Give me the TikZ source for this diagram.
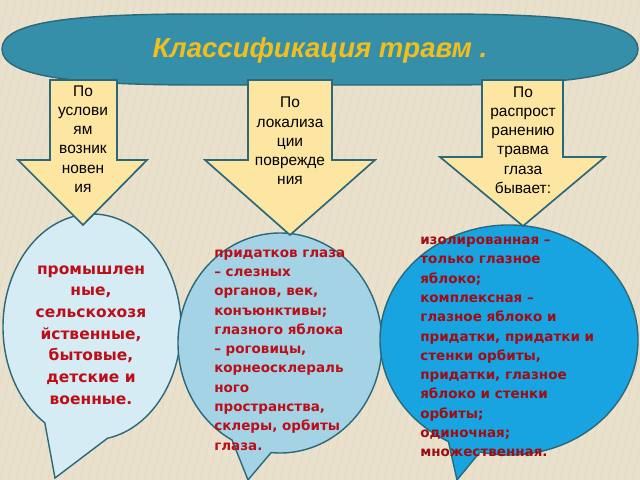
\documentclass[tikz,border=0pt]{standalone}
\usepackage{fontspec}
\setmainfont{Liberation Sans}
\newfontfamily\notefont{DejaVu Sans}
\usetikzlibrary{calc}

\definecolor{bgbeige}{RGB}{234,225,204}
\definecolor{edgeteal}{RGB}{42,104,122}
\definecolor{titleteal}{RGB}{54,143,168}
\definecolor{titlegold}{RGB}{240,190,30}
\definecolor{arrowyellow}{RGB}{253,229,162}
\definecolor{paleblue}{RGB}{214,236,244}
\definecolor{midblue}{RGB}{163,211,229}
\definecolor{brightblue}{RGB}{24,164,224}
\definecolor{notered}{RGB}{188,14,24}

\begin{document}
\begin{tikzpicture}
  [x=0.025cm, y=-0.025cm,
   pointer/.style={fill=arrowyellow, draw=edgeteal, line width=1.2pt},
   bubble/.style={draw=edgeteal, line width=1pt},
   label/.style={font=\fontsize{11}{13.7}\selectfont, align=center, inner sep=0pt},
   note/.style={text=notered, font=\notefont\bfseries\fontsize{9.6}{13.7}\selectfont, align=left, inner sep=0pt}]

  \newcommand{\neck}{160}

  \fill[bgbeige] (0,0) rectangle (640,480);
  \useasboundingbox (0,0) rectangle (640,480);

  % faint stripes of the background
  \begin{scope}
    \clip (0,0) rectangle (640,480);
    \foreach \s in {-200,-192,...,640}
      \draw[bgbeige!88!black, line width=0.5pt, opacity=0.35] (\s,480) -- (\s+120,0);
  \end{scope}

  % bubbles
  \coordinate (c1) at (92,327);
  \coordinate (c2) at (280,343);
  \coordinate (c3) at (509,340);

  \draw[bubble, fill=paleblue] (c1) ++(122:89 and 113)
    arc[start angle=122, end angle=440, x radius=89, y radius=113] -- (55,478) -- cycle;
  \draw[bubble, fill=midblue] (c2) ++(118:102 and 110)
    arc[start angle=118, end angle=455, x radius=102, y radius=110] -- (248,480) -- cycle;
  \draw[bubble, fill=brightblue] (c3) ++(118:129 and 115)
    arc[start angle=118, end angle=463, x radius=129, y radius=115] -- (457,480) -- cycle;

  % title
  \draw[fill=titleteal, draw=edgeteal, line width=1pt]
    (2,49) .. controls (2,22) and (70,14) .. (200,14) -- (440,14)
    .. controls (570,14) and (638,22) .. (638,49)
    .. controls (638,76) and (570,85) .. (440,85) -- (200,85)
    .. controls (70,85) and (2,76) .. (2,49) -- cycle;
  \node (title) at (320,50) [text=titlegold, font=\fontsize{19.6}{22}\selectfont\bfseries\itshape] {Классификация травм .};

  % arrows
  \draw[pointer] (50,80) -- (117,80) -- (117,\neck) -- (147,\neck) -- (83,225) -- (18,\neck) -- (50,\neck) -- cycle;
  \draw[pointer] (248,80) -- (332,80) -- (332,\neck) -- (375,\neck) -- (290,235) -- (205,\neck) -- (248,\neck) -- cycle;
  \draw[pointer] (482,80) -- (563,80) -- (563,157) -- (605,157) -- (523,226) -- (440,157) -- (482,157) -- cycle;

  \node (cause) at (83,139) [label] {По\\услови\\ям\\возник\\новен\\ия};
  \node (place) at (290,141) [label] {По\\локализа\\ции\\поврежде\\ния};
  \node (spread) at (523,140) [label] {По\\распрост\\ранению\\травма\\глаза\\бывает:};

  % texts
  \node (kinds) at (91,335) [note, align=center, font=\notefont\bfseries\fontsize{11}{15.4}\selectfont]
    {промышлен\\ные,\\сельскохозя\\йственные,\\бытовые,\\детские и\\военные.};
  \node (parts) at (214,350) [note, anchor=west]
    {придатков глаза\\– слезных\\органов, век,\\конъюнктивы;\\глазного яблока\\– роговицы,\\корнеосклераль\\ного\\пространства,\\склеры, орбиты\\глаза.};
  \node (extent) at (420,347) [note, anchor=west, text=notered!85!black]
    {изолированная –\\только глазное\\яблоко;\\комплексная –\\глазное яблоко и\\придатки, придатки и\\стенки орбиты,\\придатки, глазное\\яблоко и стенки\\орбиты;\\одиночная;\\множественная.};

\end{tikzpicture}
\end{document}
